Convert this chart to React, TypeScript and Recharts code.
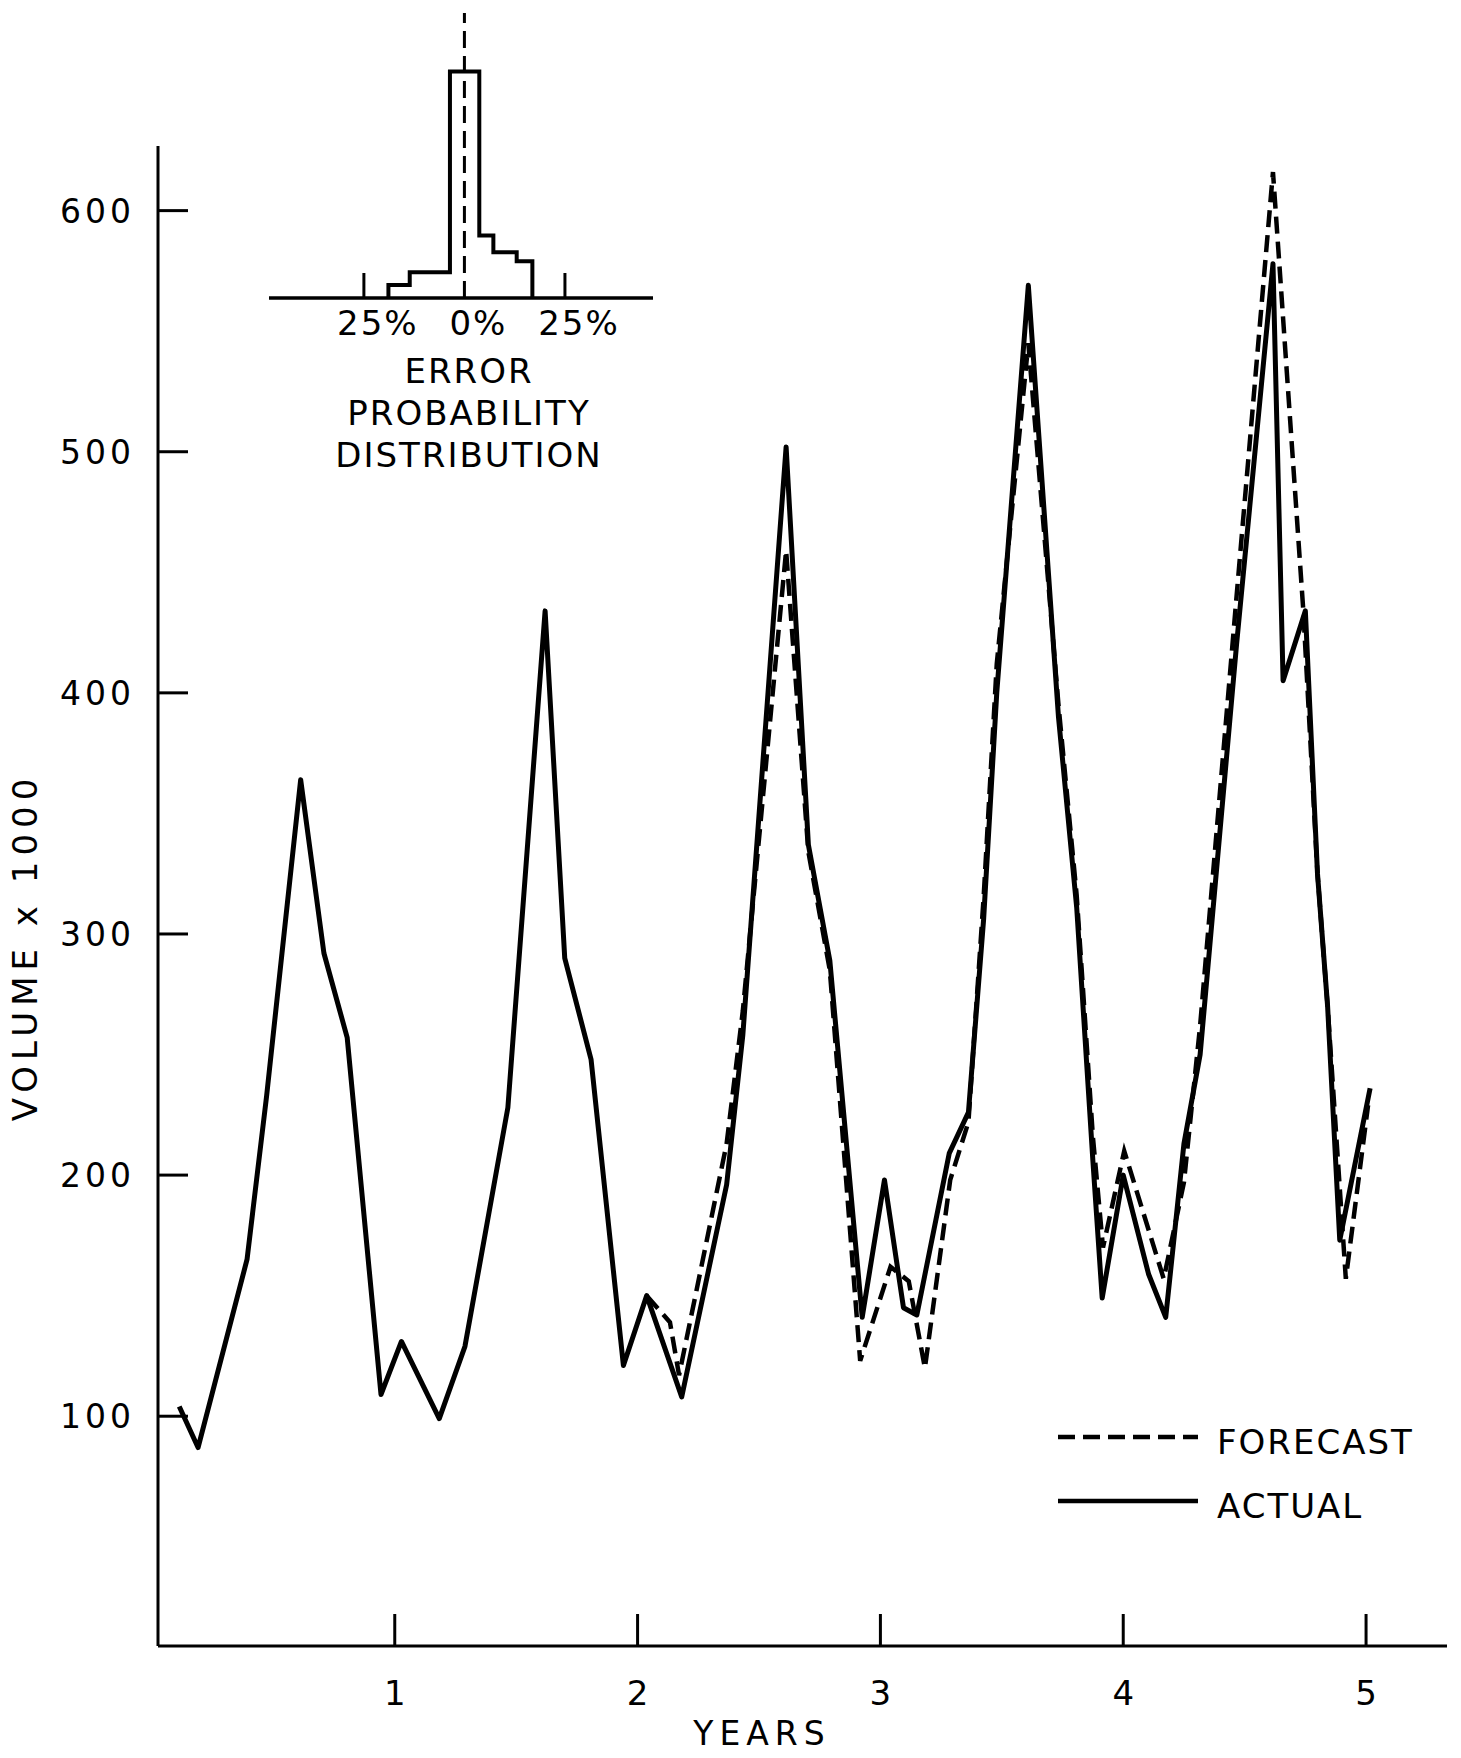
import { Legend, Line, LineChart, ReferenceLine, XAxis, YAxis } from 'recharts'

// x positions are months from the start of year 1
const actualMonths = [
  1.35, 2.28, 4.7, 5.67, 7.35, 8.5, 9.65, 11.32, 12.33, 14.2, 15.47, 17.59, 19.43, 20.4, 21.7, 23.3, 24.45,
  26.18, 28.4, 29.2, 31.34, 32.44, 33.5, 35.1, 36.2, 37.14, 37.8, 39.4, 40.35, 41.1, 41.75, 43.31, 44.8, 45.7,
  46.5, 46.96, 48.0, 49.25, 50.1, 51.0, 51.8, 53.6, 55.4, 55.9, 57.0, 57.6, 58.1, 58.7, 60.2,
]
const actualVolumes = [
  104, 87, 165, 233, 364, 292, 257, 109, 131, 99, 129, 228, 434, 290, 248, 121, 150,
  108, 196, 258, 502, 337, 289, 141, 198, 145, 142, 209, 226, 306, 400, 569, 390, 311,
  206, 149, 200, 159, 141, 213, 250, 420, 578, 405, 434, 325, 270, 173, 236,
]
const forecastMonths = [
  24.45, 25.6, 26.05, 28.4, 29.2, 31.34, 32.44, 33.5, 35.0, 36.5, 37.4, 38.2, 39.45, 40.35, 41.1, 41.75,
  43.31, 44.8, 45.7, 46.5, 47.0, 48.05, 50.0, 51.0, 51.8, 53.6, 55.4, 56.9, 57.6, 58.1, 59.0, 60.1,
]
const forecastVolumes = [
  150, 139, 117, 213, 268, 459, 334, 285, 123, 162, 156, 120, 198, 222, 315, 412,
  545, 395, 316, 216, 170, 210, 157, 197, 262, 440, 616, 434, 325, 270, 157, 229,
]
const yearTicks = [12, 24, 36, 48, 60]
const yearLabels = ['1', '2', '3', '4', '5']
const volumeTicks = [100, 200, 300, 400, 500, 600]
const legendOrder = ['FORECAST', 'ACTUAL']

// inset histogram of forecast error (bin edges in %, bar heights in relative units)
const errorBinEdges = [-18.9, -13.6, -3.6, 3.7, 7.2, 13.0, 16.9]
const errorBinHeights = [2.6, 5.1, 45, 12.4, 9.1, 7.3]
const errorTicks = [-25, 0, 25]
const errorTickLabels = ['25%', '0%', '25%']
const insetTitle = ['ERROR', 'PROBABILITY', 'DISTRIBUTION']

const FONT = '"DejaVu Sans", sans-serif'

const actualData = actualMonths.map((month, i) => ({ month, volume: actualVolumes[i] }))
const forecastData = forecastMonths.map((month, i) => ({ month, volume: forecastVolumes[i] }))

const histogramOutline = [
  { error: errorBinEdges[0], share: 0 },
  ...errorBinHeights.map((share, i) => ({ error: errorBinEdges[i], share })),
  { error: errorBinEdges[errorBinEdges.length - 1], share: 0 },
]

const YearTick = ({ x, y, payload }: any) => (
  <g>
    <line x1={x} x2={x} y1={y} y2={y - 32} stroke="#000" strokeWidth={3} />
    <text x={x} y={y + 59} textAnchor="middle" fontFamily={FONT} fontSize={34} fill="#000">
      {yearLabels[yearTicks.indexOf(payload.value)]}
    </text>
  </g>
)

const VolumeTick = ({ x, y, payload }: any) => (
  <g>
    <line x1={x} x2={x + 30} y1={y} y2={y} stroke="#000" strokeWidth={3} />
    <text x={x - 23} y={y + 12} textAnchor="end" fontFamily={FONT} fontSize={33} letterSpacing={4} fill="#000">
      {payload.value}
    </text>
  </g>
)

const YearsTitle = ({ viewBox }: any) => {
  const vb = viewBox ?? { x: 158, y: 1646 }
  return (
    <text x={vb.x + 604} y={vb.y + 99} textAnchor="middle" fontFamily={FONT} fontSize={33} letterSpacing={6} fill="#000">
      YEARS
    </text>
  )
}

const VolumeTitle = ({ viewBox }: any) => {
  const vb = viewBox ?? { x: 0, y: 146 }
  const cx = vb.x + 37
  const cy = vb.y + 801
  return (
    <text
      x={cx}
      y={cy}
      transform={`rotate(-90 ${cx} ${cy})`}
      textAnchor="middle"
      fontFamily={FONT}
      fontSize={34}
      letterSpacing={6}
      fill="#000"
    >
      VOLUME x 1000
    </text>
  )
}

const LegendKey = ({ payload }: any) => {
  const items = legendOrder
    .map((name) => (payload ?? []).find((p: any) => p.value === name))
    .filter(Boolean)
  return (
    <svg width={420} height={140}>
      {items.map((item: any, i: number) => (
        <g key={item.value}>
          <line
            x1={18}
            x2={158}
            y1={37 + i * 64}
            y2={37 + i * 64}
            stroke="#000"
            strokeWidth={4.5}
            strokeDasharray={item.payload?.strokeDasharray}
          />
          <text x={177} y={54 + i * 64} fontFamily={FONT} fontSize={34} letterSpacing={2} fill="#000">
            {item.value}
          </text>
        </g>
      ))}
    </svg>
  )
}

const ErrorTick = ({ x, y, payload }: any) => (
  <g>
    {payload.value !== 0 && <line x1={x} x2={x} y1={y} y2={y - 25} stroke="#000" strokeWidth={3} />}
    <text x={x + 14} y={y + 37} textAnchor="middle" fontFamily={FONT} fontSize={34} letterSpacing={2} fill="#000">
      {errorTickLabels[errorTicks.indexOf(payload.value)]}
    </text>
  </g>
)

const InsetTitle = ({ viewBox }: any) => {
  const vb = viewBox ?? { x: 29, y: 298 }
  return (
    <g>
      {insetTitle.map((line, i) => (
        <text
          key={line}
          x={vb.x + 200}
          y={vb.y + 85 + i * 42}
          textAnchor="middle"
          fontFamily={FONT}
          fontSize={34}
          letterSpacing={2}
          fill="#000"
        >
          {line}
        </text>
      ))}
    </g>
  )
}

export default function App() {
  return (
    <div style={{ position: 'relative', width: 1461, height: 1758, background: '#fff', overflow: 'hidden' }}>
      <style>{'body{margin:0}'}</style>
      <LineChart width={1461} height={1758} margin={{ top: 146, right: 14, bottom: 0, left: 0 }}>
        <XAxis
          type="number"
          dataKey="month"
          domain={[0.3, 64]}
          ticks={yearTicks}
          interval={0}
          height={112}
          tickSize={0}
          tickMargin={0}
          tickLine={false}
          tick={(props: any) => <YearTick {...props} />}
          axisLine={{ stroke: '#000', strokeWidth: 3 }}
          label={{ content: (props: any) => <YearsTitle {...props} /> }}
        />
        <YAxis
          type="number"
          domain={[4.7, 626.8]}
          ticks={volumeTicks}
          interval={0}
          width={158}
          tickSize={0}
          tickMargin={0}
          tickLine={false}
          tick={(props: any) => <VolumeTick {...props} />}
          axisLine={{ stroke: '#000', strokeWidth: 3 }}
          label={{ content: (props: any) => <VolumeTitle {...props} /> }}
        />
        <Line
          data={forecastData}
          dataKey="volume"
          name="FORECAST"
          type="linear"
          stroke="#000"
          strokeWidth={4.5}
          strokeDasharray="17 8"
          dot={false}
          activeDot={false}
          isAnimationActive={false}
        />
        <Line
          data={actualData}
          dataKey="volume"
          name="ACTUAL"
          type="linear"
          stroke="#000"
          strokeWidth={5}
          strokeLinejoin="round"
          dot={false}
          activeDot={false}
          isAnimationActive={false}
        />
        <Legend
          layout="horizontal"
          verticalAlign="middle"
          align="center"
          wrapperStyle={{ left: 1040, top: 1400, width: 420, height: 140 }}
          content={(props: any) => <LegendKey {...props} />}
        />
      </LineChart>

      <div style={{ position: 'absolute', left: 240, top: 0 }}>
        <LineChart width={420} height={480} margin={{ top: 13, right: 7, bottom: 0, left: 29 }}>
          <XAxis
            type="number"
            dataKey="error"
            domain={[-48.6, 46.9]}
            ticks={errorTicks}
            interval={0}
            height={182}
            tickSize={0}
            tickMargin={0}
            tickLine={false}
            tick={(props: any) => <ErrorTick {...props} />}
            axisLine={{ stroke: '#000', strokeWidth: 3.5 }}
            label={{ content: (props: any) => <InsetTitle {...props} /> }}
          />
          <YAxis hide type="number" domain={[0, 56.6]} />
          <ReferenceLine x={0} stroke="#000" strokeWidth={3} strokeDasharray="17 8" />
          <Line
            data={histogramOutline}
            dataKey="share"
            type="stepAfter"
            stroke="#000"
            strokeWidth={4}
            dot={false}
            activeDot={false}
            isAnimationActive={false}
          />
        </LineChart>
      </div>
    </div>
  )
}
